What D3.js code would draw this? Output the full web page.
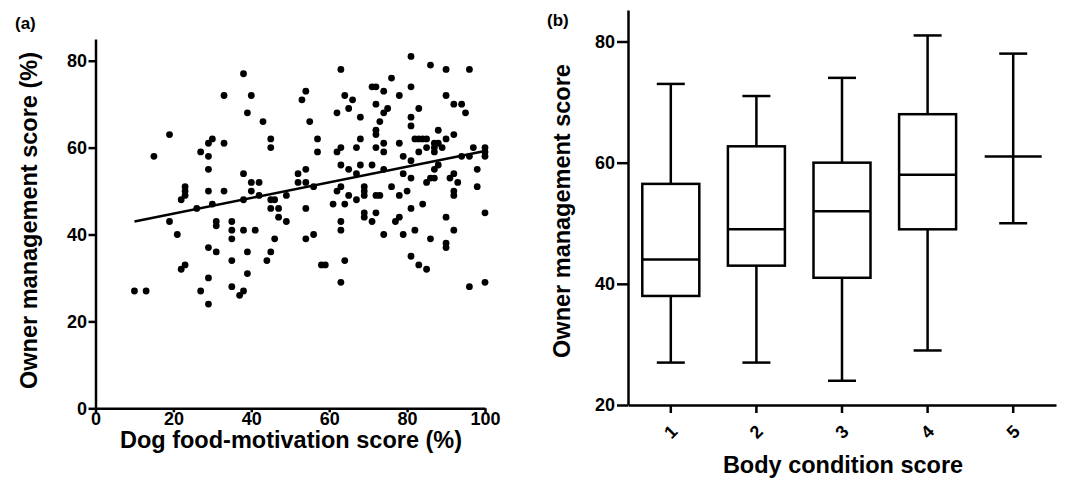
<!DOCTYPE html>
<html>
<head>
<meta charset="utf-8">
<script src="https://cdn.jsdelivr.net/npm/d3@7"></script>
<style>
  body { margin: 0; background: #fff; }
  svg text { font-family: "Liberation Sans", Arial, sans-serif; font-weight: bold; fill: #000; }
</style>
</head>
<body>
<svg id="chart" width="1065" height="479"></svg>
<script>
// panel (a) - scatter, food motivation vs owner management
const motivation = [
  33,19,15,27,29,30,33,29,29,
  38,40,39,43,45,45,38,52,54,53,54,55,57,57,63,64,66,65,62,62,63,63,65,
  81,86,90,96,76,71,72,81,74,78,90,72,92,94,95,83,74,75,68,81,73,81,72,72,88,
  68,82,83,84,85,90,92,88,67,72,74,74,78,83,85,87,87,89,87,79,81,94,96,97,100,
  100,100,68,71,67,74,88,87,98,79,81,86,87,91,92,
  23,23,23,22,29,33,26,30,19,31,31,21,29,31,23,22,29,10,13,27,29,
  40,42,40,38,42,45,46,45,47,47,49,49,52,54,56,54,63,62,65,67,61,64,35,35,35,
  38,41,46,54,56,63,63,39,45,35,44,58,59,64,39,63,35,38,37,
  85,93,98,69,69,69,72,73,76,78,80,92,92,69,69,72,71,77,78,81,84,90,100,74,79,
  82,86,92,90,90,81,83,85,96,100
];
const management = [
  72,63,58,59,61,62,61,58,55,
  77,72,68,66,62,60,54,54,55,71,73,66,62,59,78,72,71,69,68,59,60,56,55,
  81,79,78,78,76,74,74,74,73,72,72,70,70,70,68,69,68,69,67,67,66,65,64,63,64,
  62,62,62,62,62,62,63,61,60,60,61,59,61,59,60,60,61,60,59,58,57,58,58,60,60,
  59,58,56,56,54,55,56,55,55,54,53,53,53,53,54,
  51,50,49,48,50,50,46,47,43,43,42,40,37,36,33,32,30,27,27,27,24,
  52,52,50,48,49,48,48,46,46,44,43,49,52,52,51,46,51,50,49,48,47,47,43,41,39,
  41,41,39,39,40,43,41,36,36,34,34,33,33,34,31,29,28,27,26,
  52,52,51,51,50,49,49,49,51,49,50,50,49,45,44,45,43,43,44,46,47,44,45,40,40,
  41,39,41,38,37,35,33,32,28,29
];
const fitX = [10, 100];
const fitY = [43.0, 59.2];
const ticksA_x = [0, 20, 40, 60, 80, 100];
const ticksA_y = [0, 20, 40, 60, 80];

// panel (b) - box plots by body condition score
const bcs = ["1", "2", "3", "4", "5"];
const whiskerLow = [27, 27, 24, 29, 50];
const q1 = [38, 43, 41, 49, 61];
const median = [44, 49, 52, 58, 61];
const q3 = [56.5, 62.7, 60, 68, 61];
const whiskerHigh = [73, 71, 74, 81, 78];
const ticksB_y = [20, 40, 60, 80];

const svg = d3.select("#chart");
const SW = 2.5;

function styleAxis(g) {
  g.selectAll("path, line").attr("stroke", "#000").attr("stroke-width", SW);
  g.selectAll("text").attr("font-size", "18px").attr("fill", "#000");
}

// ---------- (a)
const xA = d3.scaleLinear().domain([0, 100]).range([95.5, 485]);
const yA = d3.scaleLinear().domain([0, 85]).range([408.3, 39]);

const gA = svg.append("g");

gA.append("g")
  .attr("transform", "translate(0,408.3)")
  .call(d3.axisBottom(xA).tickValues(ticksA_x).tickSize(4).tickSizeOuter(0).tickPadding(0))
  .call(styleAxis);

gA.append("g")
  .attr("transform", "translate(95.5,0)")
  .call(d3.axisLeft(yA).tickValues(ticksA_y).tickSize(7).tickSizeOuter(0).tickPadding(1.5))
  .call(styleAxis);

gA.append("g").selectAll("circle")
  .data(motivation.map((m, i) => [m, management[i]]))
  .join("circle")
  .attr("cx", d => xA(d[0]))
  .attr("cy", d => yA(d[1]))
  .attr("r", 3.4)
  .attr("fill", "#000");

gA.append("path")
  .datum(fitX.map((x, i) => [x, fitY[i]]))
  .attr("d", d3.line().x(d => xA(d[0])).y(d => yA(d[1])))
  .attr("stroke", "#000")
  .attr("stroke-width", SW)
  .attr("fill", "none");

gA.append("text").attr("x", 15).attr("y", 29.4).attr("font-size", "17px").text("(a)");
gA.append("text")
  .attr("transform", "translate(291,448)")
  .attr("text-anchor", "middle").attr("font-size", "23.5px")
  .text("Dog food-motivation score (%)");
gA.append("text")
  .attr("transform", "translate(37,220.5) rotate(-90)")
  .attr("text-anchor", "middle").attr("font-size", "23.5px")
  .text("Owner management score (%)");

// ---------- (b)
const xB = d3.scaleBand().domain(bcs).range([628, 1056]);
const yB = d3.scaleLinear().domain([20, 85.2]).range([405, 10]);
const boxW = 57, capW = 28;

const gB = svg.append("g");

const axB = gB.append("g")
  .attr("transform", "translate(0,405)")
  .call(d3.axisBottom(xB).tickSize(8).tickSizeOuter(0))
  .call(styleAxis);
axB.selectAll(".tick text")
  .attr("y", 0).attr("dy", null)
  .attr("dominant-baseline", "central")
  .attr("text-anchor", "middle")
  .attr("transform", "translate(0,27) rotate(-45)");

gB.append("g")
  .attr("transform", "translate(628,0)")
  .call(d3.axisLeft(yB).tickValues(ticksB_y).tickSize(11).tickSizeOuter(0).tickPadding(2))
  .call(styleAxis);

const boxes = gB.append("g").selectAll("g")
  .data(bcs.map((c, i) => ({ c, lo: whiskerLow[i], q1: q1[i], med: median[i], q3: q3[i], hi: whiskerHigh[i] })))
  .join("g")
  .attr("transform", d => `translate(${xB(d.c) + xB.bandwidth() / 2},0)`);

boxes.append("line")
  .attr("y1", d => yB(d.lo)).attr("y2", d => yB(d.q1));
boxes.append("line")
  .attr("y1", d => yB(d.q3)).attr("y2", d => yB(d.hi));
boxes.append("line")
  .attr("x1", -capW / 2).attr("x2", capW / 2)
  .attr("y1", d => yB(d.lo)).attr("y2", d => yB(d.lo));
boxes.append("line")
  .attr("x1", -capW / 2).attr("x2", capW / 2)
  .attr("y1", d => yB(d.hi)).attr("y2", d => yB(d.hi));
boxes.filter(d => d.q3 > d.q1).append("rect")
  .attr("x", -boxW / 2).attr("width", boxW)
  .attr("y", d => yB(d.q3)).attr("height", d => yB(d.q1) - yB(d.q3))
  .attr("fill", "none");
boxes.append("line")
  .attr("x1", -boxW / 2).attr("x2", boxW / 2)
  .attr("y1", d => yB(d.med)).attr("y2", d => yB(d.med));
boxes.selectAll("line, rect").attr("stroke", "#000").attr("stroke-width", SW);

gB.append("text").attr("x", 547).attr("y", 26.4).attr("font-size", "17px").text("(b)");
gB.append("text")
  .attr("transform", "translate(843,473)")
  .attr("text-anchor", "middle").attr("font-size", "23.5px")
  .text("Body condition score");
gB.append("text")
  .attr("transform", "translate(570,211) rotate(-90)")
  .attr("text-anchor", "middle").attr("font-size", "23.5px")
  .text("Owner management score");
</script>
</body>
</html>
